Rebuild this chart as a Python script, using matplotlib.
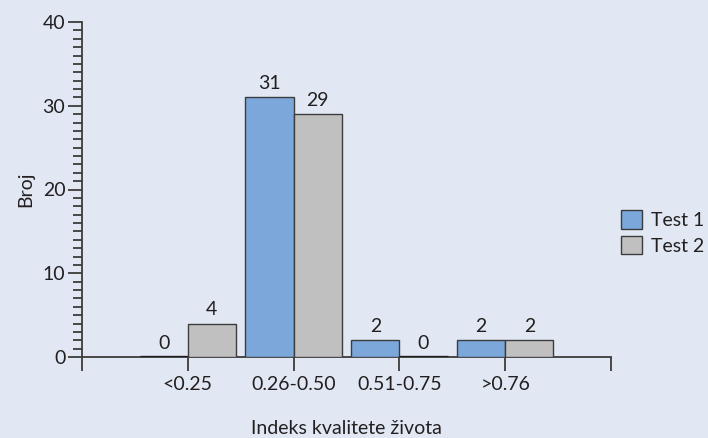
import matplotlib
matplotlib.use('Agg')
import matplotlib.pyplot as plt
import numpy as np

categories = ['<0.25', '0.26-0.50', '0.51-0.75', '>0.76']
test1 = [0, 31, 2, 2]
test2 = [4, 29, 0, 2]
series_names = ['Test 1', 'Test 2']

bg = '#e1e8f4'
blue = '#7ba7da'
gray = '#c0c0c0'
edge = '#3c3c3c'
txt = '#231f20'

plt.rcParams['font.family'] = ['Lato', 'DejaVu Sans']
fs = 14
plt.rcParams['font.size'] = fs

fig = plt.figure(figsize=(7.08, 4.38), dpi=100, facecolor=bg)
ax = fig.add_axes([82/708, 1 - 357/438, (611 - 82)/708, (357 - 22)/438])
ax.set_facecolor(bg)

x = np.arange(len(categories))
w = 0.455

for vals, off, col in [(test1, -w/2, blue), (test2, w/2, gray)]:
    for xi, v in zip(x, vals):
        if v == 0:
            ax.bar(xi + off, 0, w, color=col, edgecolor='#1a1a1a', linewidth=2.4, zorder=3)
        else:
            ax.bar(xi + off, v, w, color=col, edgecolor=edge, linewidth=1.0, zorder=3)
        ax.text(xi + off, v + 0.6, str(v), ha='center', va='bottom', color=txt, fontsize=fs)

ax.set_xlim(-1, 4)
ax.set_ylim(0, 40)
ax.set_xticks(np.arange(-1, 5))
ax.set_xticklabels([''] + categories + [''], color=txt)
ax.set_yticks([0, 10, 20, 30, 40])
ax.set_yticks(np.arange(0, 41, 1), minor=True)
ax.tick_params(axis='y', which='major', direction='out', length=10, width=1.3, color=edge, labelcolor=txt, pad=2)
ax.tick_params(axis='y', which='minor', direction='out', length=6.5, width=1.3, color=edge)
ax.tick_params(axis='x', which='major', direction='out', length=10, width=1.3, color=edge, labelcolor=txt, pad=4)

for s in ['top', 'right']:
    ax.spines[s].set_visible(False)
for s in ['left', 'bottom']:
    ax.spines[s].set_color(edge)
    ax.spines[s].set_linewidth(1.3)

ax.set_ylabel('Broj', color=txt, labelpad=6)
fig.text(346/708, 1 - 428/438, 'Indeks kvalitete života', ha='center', va='center', color=txt, fontsize=fs)

handles = [plt.Rectangle((0, 0), 1, 1, facecolor=blue, edgecolor=edge, linewidth=1.0),
           plt.Rectangle((0, 0), 1, 1, facecolor=gray, edgecolor=edge, linewidth=1.0)]
leg = fig.legend(handles, series_names, loc='center left', bbox_to_anchor=(621/708, 1 - 232.5/438),
                 frameon=False, borderpad=0, borderaxespad=0,
                 handlelength=1.08, handleheight=1.08, handletextpad=0.45,
                 labelspacing=0.36, fontsize=fs)
for t in leg.get_texts():
    t.set_color(txt)

fig.savefig('out.png', dpi=100, facecolor=bg)
